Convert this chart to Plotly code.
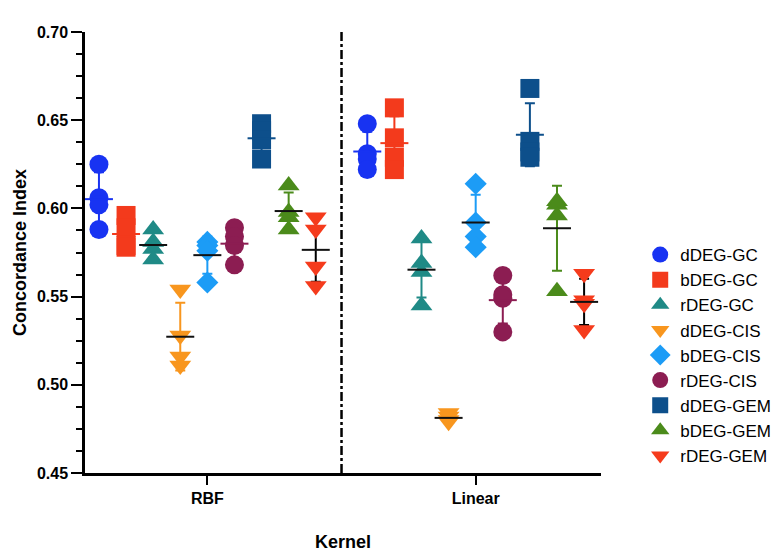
import numpy as np
import plotly.graph_objects as go

kernels = ["RBF", "Linear"]
series_names = ["dDEG-GC", "bDEG-GC", "rDEG-GC", "dDEG-CIS", "bDEG-CIS",
                "rDEG-CIS", "dDEG-GEM", "bDEG-GEM", "rDEG-GEM"]

# Concordance index values (replicates) per series, per kernel
rbf_values = {
    "dDEG-GC":  [0.625, 0.606, 0.602, 0.588],
    "bDEG-GC":  [0.596, 0.589, 0.579, 0.578],
    "rDEG-GC":  [0.588, 0.581, 0.577, 0.571],
    "dDEG-CIS": [0.554, 0.528, 0.516, 0.511],
    "bDEG-CIS": [0.581, 0.579, 0.576, 0.558],
    "rDEG-CIS": [0.589, 0.584, 0.579, 0.568],
    "dDEG-GEM": [0.648, 0.644, 0.639, 0.628],
    "bDEG-GEM": [0.613, 0.598, 0.595, 0.588],
    "rDEG-GEM": [0.595, 0.588, 0.567, 0.556],
}
linear_values = {
    "dDEG-GC":  [0.648, 0.631, 0.628, 0.622],
    "bDEG-GC":  [0.657, 0.640, 0.629, 0.622],
    "rDEG-GC":  [0.583, 0.569, 0.564, 0.545],
    "dDEG-CIS": [0.484, 0.482, 0.480, 0.479],
    "bDEG-CIS": [0.614, 0.592, 0.584, 0.578],
    "rDEG-CIS": [0.562, 0.551, 0.549, 0.530],
    "dDEG-GEM": [0.668, 0.638, 0.632, 0.629],
    "bDEG-GEM": [0.604, 0.602, 0.596, 0.553],
    "rDEG-GEM": [0.563, 0.548, 0.546, 0.531],
}

colors = ["#1833f2", "#f33a1c", "#1f8a86", "#f8961e", "#1c9cf6",
          "#8c1d52", "#0d4f8b", "#4b8b1b", "#f53b1c"]
symbols = ["circle", "square", "triangle-up", "triangle-down", "diamond",
           "circle", "square", "triangle-up", "triangle-down"]
sizes = [19, 19, 19, 19, 17, 19, 19, 19, 19]
errcolors = ["#1833f2", "#f33a1c", "#1f8a86", "#f8961e", "#1c9cf6",
             "#8c1d52", "#0d4f8b", "#4b8b1b", "#000000"]
meancolors = ["#1833f2", "#f33a1c", "#111111", "#111111", "#111111",
              "#8c1d52", "#0d4f8b", "#111111", "#111111"]

OFFSET_STEP = 0.101
DIVIDER = 0.5
FONT = "Liberation Sans, Arial, Helvetica, sans-serif"

fig = go.Figure()
groups = [rbf_values, linear_values]
for i, name in enumerate(series_names):
    xs, ys = [], []
    mx, my, sd = [], [], []
    for k, grp in enumerate(groups):
        vals = grp[name]
        xpos = k + (i - 4) * OFFSET_STEP
        xs += [xpos] * len(vals)
        ys += vals
        mx.append(xpos)
        my.append(float(np.mean(vals)))
        sd.append(float(np.std(vals, ddof=1)))
    fig.add_trace(go.Scatter(
        x=mx, y=my, mode="markers", showlegend=False, hoverinfo="skip",
        marker=dict(symbol="line-ew", size=1, color="rgba(0,0,0,0)",
                    line=dict(width=0)),
        error_y=dict(type="data", array=sd, visible=True,
                     color=errcolors[i], thickness=2, width=5),
    ))
    fig.add_trace(go.Scatter(
        x=xs, y=ys, mode="markers", name=name,
        marker=dict(symbol=symbols[i], size=sizes[i], color=colors[i],
                    line=dict(width=0)),
    ))
    fig.add_trace(go.Scatter(
        x=mx, y=my, mode="markers", showlegend=False, hoverinfo="skip",
        marker=dict(symbol="line-ew", size=20,
                    line=dict(width=2, color=meancolors[i])),
    ))

fig.add_shape(type="line", x0=DIVIDER, x1=DIVIDER, y0=0.45, y1=0.70,
              xref="x", yref="y",
              line=dict(color="black", width=2.5, dash="dashdot"))

fig.update_layout(
    width=780, height=553,
    margin=dict(l=77, r=184, t=24, b=88),
    paper_bgcolor="white", plot_bgcolor="white",
    font=dict(family=FONT, color="black"),
    legend=dict(x=1.076, y=0.535, xanchor="left", yanchor="top",
                font=dict(size=17, family=FONT), itemsizing="trace",
                tracegroupgap=0, bgcolor="rgba(0,0,0,0)"),
    showlegend=True,
)
fig.update_xaxes(
    range=[-0.456, 1.467], tickvals=[0, 1], ticktext=kernels,
    showline=True, linecolor="black", linewidth=2.5,
    ticks="outside", ticklen=9, tickwidth=2, tickcolor="black",
    showgrid=False, zeroline=False, automargin=False,
    tickfont=dict(size=16, weight="bold", family=FONT),
    title=dict(text="Kernel", font=dict(size=18, weight="bold", family=FONT),
               standoff=30),
)
fig.update_yaxes(
    range=[0.45, 0.70], tickvals=[0.45, 0.50, 0.55, 0.60, 0.65, 0.70],
    ticktext=["0.45", "0.50", "0.55", "0.60", "0.65", "0.70"],
    showline=True, linecolor="black", linewidth=2.5,
    ticks="outside", ticklen=11, tickwidth=2, tickcolor="black",
    minor=dict(dtick=0.0125, tick0=0.45, ticks="outside", ticklen=6,
               tickwidth=2, tickcolor="black", showgrid=False),
    showgrid=False, zeroline=False, automargin=False,
    tickfont=dict(size=16, weight="bold", family=FONT),
    title=dict(text="Concordance Index",
               font=dict(size=18, weight="bold", family=FONT), standoff=6),
)

fig.write_html("out.html")
